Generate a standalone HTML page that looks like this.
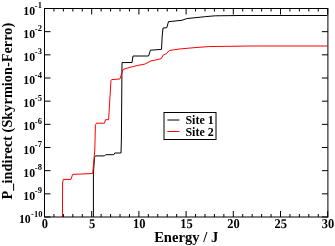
<!DOCTYPE html>
<html><head><meta charset="utf-8"><style>
html,body{margin:0;padding:0;background:#fff;}
svg{display:block;}
text{font-family:"Liberation Serif",serif;font-weight:bold;}
</style></head><body>
<svg width="335" height="246" viewBox="0 0 335 246" style="will-change:transform">
<rect width="335" height="246" fill="#fff"/>
<defs><clipPath id="c"><rect x="44.5" y="8.5" width="283.2" height="208.5"/></clipPath></defs>
<g clip-path="url(#c)" fill="none" stroke-width="1" stroke-linejoin="miter">
<polyline points="93.40,230.00 93.40,174.00 94.50,157.30 95.50,155.90 104.50,155.90 105.60,154.70 113.80,154.70 114.80,153.00 121.00,153.00 121.40,139.00 122.00,62.60 132.00,62.50 133.00,56.00 148.60,56.00 150.40,50.20 161.50,49.40 162.20,36.00 163.00,28.00 166.80,27.70 168.50,21.60 170.00,21.50 181.90,20.30 186.70,18.60 205.80,16.60 215.30,15.80 240.00,15.50 327.50,15.50" stroke="#000"/>
<polyline points="62.40,230.00 62.60,183.00 63.20,179.40 71.00,179.40 72.60,174.40 92.70,173.50 94.80,150.00 95.40,125.20 96.50,123.20 104.50,123.20 105.50,119.70 108.60,119.70 111.00,80.30 111.60,79.60 119.90,79.00 123.10,69.40 129.00,67.60 136.80,65.60 144.90,64.10 151.00,60.90 155.90,59.90 161.30,58.70 163.20,55.00 166.20,53.80 169.30,50.50 180.00,48.90 180.70,48.90 193.90,47.70 208.20,46.60 250.00,46.00 327.50,46.00" stroke="#f00"/>
</g>
<path d="M44.50 217.0v-6M44.50 8.5v6M53.94 217.0v-3M53.94 8.5v3M63.38 217.0v-3M63.38 8.5v3M72.82 217.0v-3M72.82 8.5v3M82.26 217.0v-3M82.26 8.5v3M91.70 217.0v-6M91.70 8.5v6M101.14 217.0v-3M101.14 8.5v3M110.58 217.0v-3M110.58 8.5v3M120.02 217.0v-3M120.02 8.5v3M129.46 217.0v-3M129.46 8.5v3M138.90 217.0v-6M138.90 8.5v6M148.34 217.0v-3M148.34 8.5v3M157.78 217.0v-3M157.78 8.5v3M167.22 217.0v-3M167.22 8.5v3M176.66 217.0v-3M176.66 8.5v3M186.10 217.0v-6M186.10 8.5v6M195.54 217.0v-3M195.54 8.5v3M204.98 217.0v-3M204.98 8.5v3M214.42 217.0v-3M214.42 8.5v3M223.86 217.0v-3M223.86 8.5v3M233.30 217.0v-6M233.30 8.5v6M242.74 217.0v-3M242.74 8.5v3M252.18 217.0v-3M252.18 8.5v3M261.62 217.0v-3M261.62 8.5v3M271.06 217.0v-3M271.06 8.5v3M280.50 217.0v-6M280.50 8.5v6M289.94 217.0v-3M289.94 8.5v3M299.38 217.0v-3M299.38 8.5v3M308.82 217.0v-3M308.82 8.5v3M318.26 217.0v-3M318.26 8.5v3M327.70 217.0v-6M327.70 8.5v6M44.5 217.00h6M327.9 217.00h-6M44.5 193.83h6M327.9 193.83h-6M44.5 170.67h6M327.9 170.67h-6M44.5 147.50h6M327.9 147.50h-6M44.5 124.33h6M327.9 124.33h-6M44.5 101.17h6M327.9 101.17h-6M44.5 78.00h6M327.9 78.00h-6M44.5 54.83h6M327.9 54.83h-6M44.5 31.67h6M327.9 31.67h-6M44.5 8.50h6M327.9 8.50h-6" stroke="#000" stroke-width="1" fill="none"/>
<rect x="44.5" y="8.5" width="283.40" height="208.5" fill="none" stroke="#000" stroke-width="1"/>
<g font-size="12.5" fill="#000">
<text transform="translate(44.80,228.0) scale(1,1.08) skewX(0.1)" text-anchor="middle">0</text><text transform="translate(92.00,228.0) scale(1,1.08) skewX(0.1)" text-anchor="middle">5</text><text transform="translate(139.20,228.0) scale(1,1.08) skewX(0.1)" text-anchor="middle">10</text><text transform="translate(186.40,228.0) scale(1,1.08) skewX(0.1)" text-anchor="middle">15</text><text transform="translate(233.60,228.0) scale(1,1.08) skewX(0.1)" text-anchor="middle">20</text><text transform="translate(280.80,228.0) scale(1,1.08) skewX(0.1)" text-anchor="middle">25</text><text transform="translate(328.00,228.0) scale(1,1.08) skewX(0.1)" text-anchor="middle">30</text>
</g>
<g font-size="11.8" fill="#000">
<text x="35.15" y="14.50" text-anchor="end">10</text><text x="41.9" y="8.00" text-anchor="end" font-size="8.5"><tspan dy="0.7">-</tspan><tspan dy="-0.7">1</tspan></text><text x="35.15" y="37.67" text-anchor="end">10</text><text x="41.9" y="31.17" text-anchor="end" font-size="8.5"><tspan dy="0.7">-</tspan><tspan dy="-0.7">2</tspan></text><text x="35.15" y="60.83" text-anchor="end">10</text><text x="41.9" y="54.33" text-anchor="end" font-size="8.5"><tspan dy="0.7">-</tspan><tspan dy="-0.7">3</tspan></text><text x="35.15" y="84.00" text-anchor="end">10</text><text x="41.9" y="77.50" text-anchor="end" font-size="8.5"><tspan dy="0.7">-</tspan><tspan dy="-0.7">4</tspan></text><text x="35.15" y="107.17" text-anchor="end">10</text><text x="41.9" y="100.67" text-anchor="end" font-size="8.5"><tspan dy="0.7">-</tspan><tspan dy="-0.7">5</tspan></text><text x="35.15" y="130.33" text-anchor="end">10</text><text x="41.9" y="123.83" text-anchor="end" font-size="8.5"><tspan dy="0.7">-</tspan><tspan dy="-0.7">6</tspan></text><text x="35.15" y="153.50" text-anchor="end">10</text><text x="41.9" y="147.00" text-anchor="end" font-size="8.5"><tspan dy="0.7">-</tspan><tspan dy="-0.7">7</tspan></text><text x="35.15" y="176.67" text-anchor="end">10</text><text x="41.9" y="170.17" text-anchor="end" font-size="8.5"><tspan dy="0.7">-</tspan><tspan dy="-0.7">8</tspan></text><text x="35.15" y="199.83" text-anchor="end">10</text><text x="41.9" y="193.33" text-anchor="end" font-size="8.5"><tspan dy="0.7">-</tspan><tspan dy="-0.7">9</tspan></text><text x="30.75" y="223.00" text-anchor="end">10</text><text x="42.4" y="216.50" text-anchor="end" font-size="8.5"><tspan dy="0.7">-</tspan><tspan dy="-0.7">10</tspan></text>
</g>
<rect x="164" y="112.5" width="52" height="27" fill="#fff" stroke="#000" stroke-width="1"/>
<path d="M167.4 120.0H179.4" stroke="#000" stroke-width="1"/>
<path d="M167.4 131.5H179.4" stroke="#f00" stroke-width="1"/>
<g font-size="12" fill="#000">
<text x="185.4" y="123.8">Site 1</text>
<text x="185.4" y="135.6">Site 2</text>
</g>
<text x="154.15" y="241.8" font-size="14.6">Energy / J</text>
<text transform="translate(12,199.45) rotate(-90)" font-size="14.35">P_indirect (Skyrmion-Ferro)</text>
</svg>
</body></html>
